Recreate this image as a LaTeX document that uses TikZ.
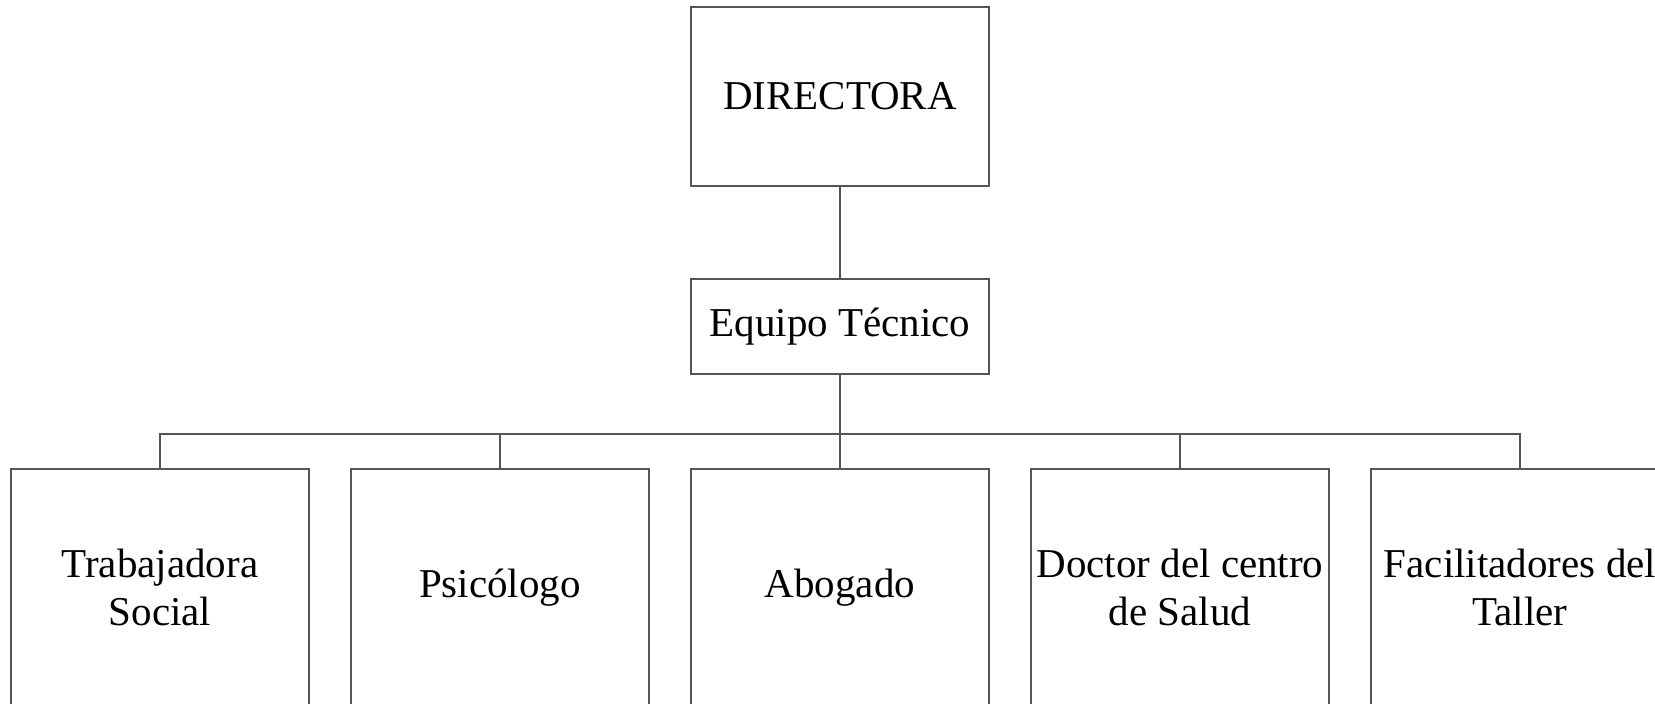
\documentclass[tikz,border=0pt]{standalone}
\usepackage{fontspec}
\setmainfont{Liberation Serif}
\usepackage{xcolor}
\definecolor{boxgrey}{RGB}{85,85,85}

\begin{document}
\begin{tikzpicture}[x=1pt,y=-1pt,
    box/.style={draw=boxgrey,line width=1.3pt,align=center,inner sep=0pt,
      font=\fontsize{41}{48}\selectfont},
    link/.style={boxgrey,line width=1.3pt}]
        \useasboundingbox (0,0) rectangle (1655,704);
        \clip (0,0) rectangle (1655,704);
        \node[box,minimum width=298pt,minimum height=179pt](dir) at (840,96.5){DIRECTORA};
        \node[box,minimum width=298pt,minimum height=95pt](equipo) at (840,326.5){Equipo Técnico};
        \coordinate (bus) at (840,434);
        \foreach \nm/\xx/\lab in {ts/160/{Trabajadora\\Social},psi/500/{Psicólogo},
            abo/840/{Abogado},doc/1180/{Doctor del centro\\de Salud},fac/1520/{Facilitadores del\\Taller}}{
          \node[box,minimum width=298pt,minimum height=237pt](\nm) at (\xx,587.5){\lab};
          \draw[link](bus) -| (\nm.north);
        }
        \draw[link](dir) -- (equipo);
        \draw[link](equipo) -- (bus);
      \end{tikzpicture}
\end{document}
